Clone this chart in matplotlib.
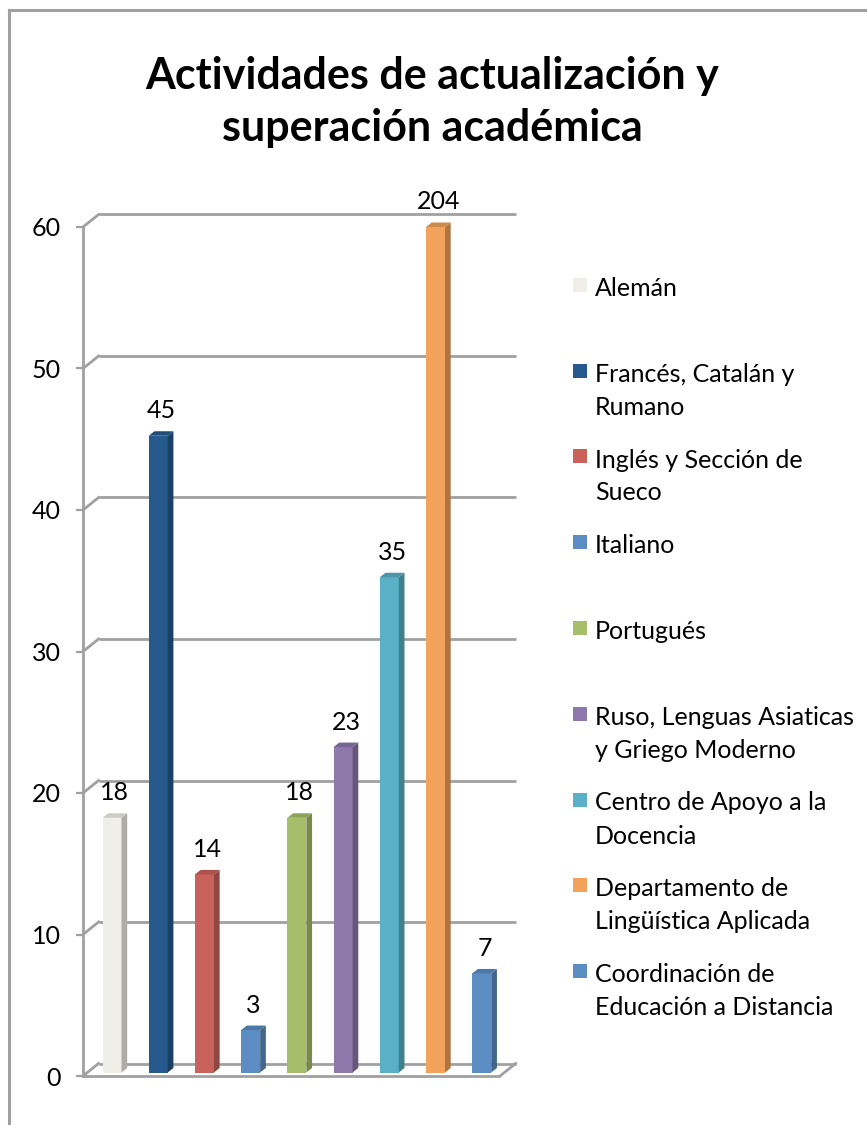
import matplotlib

matplotlib.use("Agg")

import matplotlib.pyplot as plt
from matplotlib.colors import to_rgb
from matplotlib.lines import Line2D
from matplotlib.patches import Polygon, Rectangle

plt.rcParams["font.family"] = ["Lato", "DejaVu Sans"]

TITLE = "Actividades de actualización y\nsuperación académica"
CATEGORIES = [
    "Alemán",
    "Francés, Catalán y\nRumano",
    "Inglés y Sección de\nSueco",
    "Italiano",
    "Portugués",
    "Ruso, Lenguas Asiaticas\ny Griego Moderno",
    "Centro de Apoyo a la\nDocencia",
    "Departamento de\nLingüística Aplicada",
    "Coordinación de\nEducación a Distancia",
]
VALUES = [18, 45, 14, 3, 18, 23, 35, 204, 7]
COLORS = ["#F0EFE7", "#26598C", "#C9625A", "#5B8DC3", "#A6BE6A",
          "#8D77AB", "#5AB0C6", "#F2A25A", "#5B8DC3"]
YMAX = 60
YTICKS = [0, 10, 20, 30, 40, 50, 60]

GRID = "#A0A0A0"
W, H = 867, 1125
FS = 18

fig = plt.figure(figsize=(W / 100, H / 100), dpi=100)

# frame of the chart area
fig.add_artist(Line2D([9 / W, 9 / W], [0, 1 - 10 / H], color=GRID, lw=2.2))
fig.add_artist(Line2D([9 / W, 1], [1 - 10 / H, 1 - 10 / H], color=GRID, lw=2.2))

fig.text(432 / W, 1 - 102 / H, TITLE, ha="center", va="center",
         fontsize=31, fontweight="bold", linespacing=1.35)

ax = fig.add_axes([83 / W, 49 / H, 417 / W, 849 / H])
xmin, xmax = -0.533, 8.49
ax.set_xlim(xmin, xmax)
ax.set_ylim(0, YMAX)
for s in ax.spines.values():
    s.set_visible(False)
ax.set_xticks([])
ax.set_yticks(YTICKS)
ax.tick_params(axis="y", length=5, width=1.6, color=GRID, pad=11, labelsize=FS)
ax.patch.set_alpha(0)

# depth of the 3D box in data units
px_x = (xmax - xmin) / 417
px_y = YMAX / 849
DX, DY = 15.6 * px_x, 12.5 * px_y
lw = 2.0

for v in YTICKS:
    ax.plot([xmin + DX, xmax + DX], [v + DY, v + DY], color=GRID, lw=lw,
            clip_on=False, zorder=1, solid_capstyle="butt")
    ax.plot([xmin, xmin + DX], [v, v + DY], color=GRID, lw=lw,
            clip_on=False, zorder=1)
ax.plot([xmin, xmin], [0, YMAX], color=GRID, lw=lw, clip_on=False, zorder=1)
ax.plot([xmin, xmax], [0, 0], color=GRID, lw=lw, clip_on=False, zorder=1,
        solid_capstyle="butt")
ax.plot([xmax, xmax + DX], [0, DY], color=GRID, lw=lw, clip_on=False, zorder=1)


def shade(c, f):
    r, g, b = to_rgb(c)
    return (r * f, g * f, b * f)


bw = 19 * px_x
sx, sy = 5.7 * px_x, 4.5 * px_y
ox, oy = 0.28 * DX, 0.28 * DY
for i, (v, c) in enumerate(zip(VALUES, COLORS)):
    h = min(v, YMAX)
    x0 = i + ox - bw / 2
    x1 = x0 + bw
    y0 = oy
    y1 = oy + h - oy * (v >= YMAX)
    ax.add_patch(Rectangle((x0, y0), bw, y1 - y0, facecolor=c, edgecolor="none",
                           zorder=3, clip_on=False))
    ax.add_patch(Polygon([(x1, y0), (x1 + sx, y0 + sy), (x1 + sx, y1 + sy), (x1, y1)],
                         closed=True, facecolor=shade(c, 0.72), edgecolor="none",
                         zorder=3, clip_on=False))
    ax.add_patch(Polygon([(x0, y1), (x1, y1), (x1 + sx, y1 + sy), (x0 + sx, y1 + sy)],
                         closed=True, facecolor=shade(c, 0.85), edgecolor="none",
                         zorder=3, clip_on=False))
    ax.text(i + ox + sx / 2, y1 + sy + 9 * px_y, str(v), ha="center", va="bottom",
            fontsize=FS, zorder=4, clip_on=False)

# legend, one text per line so the first line sits beside the key
for k, (lab, c) in enumerate(zip(CATEGORIES, COLORS)):
    yc = 285 + k * 85.75
    fig.add_artist(Rectangle((573 / W, 1 - (yc + 7) / H), 14 / W, 14 / H,
                             transform=fig.transFigure, facecolor=c, edgecolor="none"))
    for j, line in enumerate(lab.split("\n")):
        fig.text(595 / W, 1 - (yc + 11 + 33 * j) / H, line, ha="left",
                 va="baseline", fontsize=FS)

fig.savefig("out.png", dpi=100)
